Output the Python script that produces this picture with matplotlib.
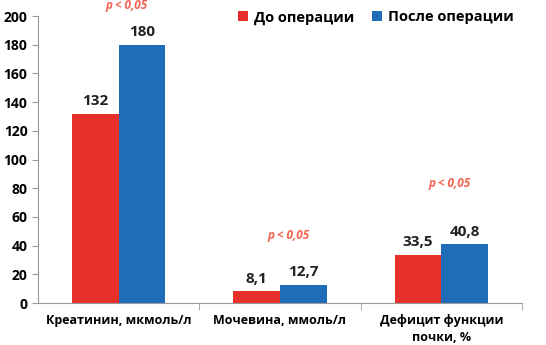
import matplotlib
matplotlib.use('Agg')
import matplotlib.pyplot as plt
import numpy as np

plt.rcParams['font.family'] = ['Open Sans', 'DejaVu Sans']

labels = ['Креатинин, мкмоль/л', 'Мочевина, ммоль/л', 'Дефицит функции\nпочки, %']
before = [132, 8.1, 33.5]
after = [180, 12.7, 40.8]
before_txt = ['132', '8,1', '33,5']
after_txt = ['180', '12,7', '40,8']
p_text = 'p < 0,05'
p_y = [207, 47, 83]

x = np.arange(len(labels))
width = 0.29

fig = plt.figure(figsize=(5.46, 3.45), dpi=100)
ax = fig.add_axes([0.0696, 0.1217, 0.8864, 0.8319])

red = '#e8302a'
blue = '#1f6cb8'
r1 = ax.bar(x - width / 2, before, width, color=red, label='До операции')
r2 = ax.bar(x + width / 2, after, width, color=blue, label='После операции')

for rects, txts in ((r1, before_txt), (r2, after_txt)):
    for rect, t in zip(rects, txts):
        ax.annotate(t, xy=(rect.get_x() + rect.get_width() / 2, rect.get_height()),
                    xytext=(0, 4), textcoords='offset points',
                    ha='center', va='bottom', fontsize=11, fontweight='bold',
                    color='#222222')

for i, py in enumerate(p_y):
    ax.text(x[i] + 0.05, py, p_text, ha='center', va='center', fontsize=8.5,
            fontweight='bold', style='italic', color='#f26450', clip_on=False)

ax.set_xlim(-0.5, 2.5)
ax.set_ylim(0, 200)
ax.set_yticks(np.arange(0, 201, 20))
ax.tick_params(axis='y', labelsize=10, length=4, color='#999999')
for lb in ax.get_yticklabels():
    lb.set_fontweight('bold')

ax.set_xticks(x)
ax.set_xticklabels(labels, fontsize=9, fontweight='bold', linespacing=1.4)
ax.tick_params(axis='x', length=0, pad=8)
ax.set_xticks([0.5, 1.5, 2.5], minor=True)
ax.tick_params(axis='x', which='minor', length=5, color='#999999')

for s in ['top', 'right']:
    ax.spines[s].set_visible(False)
ax.spines['left'].set_color('#999999')
ax.spines['bottom'].set_color('#999999')

leg = ax.legend(loc='upper right', bbox_to_anchor=(1.01, 1.065), ncol=2, frameon=False,
                fontsize=10.5, handlelength=0.7, handleheight=0.7, handletextpad=0.4,
                columnspacing=1.2)
for t in leg.get_texts():
    t.set_fontweight('bold')

fig.savefig('out.png', dpi=100)
